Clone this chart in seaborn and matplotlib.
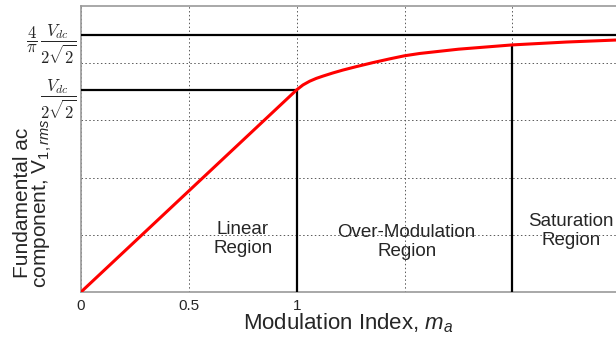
import numpy as np
import pandas as pd
import matplotlib
matplotlib.use('Agg')
import matplotlib.pyplot as plt
import seaborn as sns

# values (y normalised so that the top of the axes = 1)
m_curve = [0, 1.0, 1.029, 1.06, 1.091, 1.122, 1.168, 1.214, 1.276, 1.353,
           1.43, 1.5, 1.57, 1.75, 2.0, 2.25, 2.48]
v_curve = [0, 0.707, 0.724, 0.737, 0.747, 0.755, 0.766, 0.776, 0.788, 0.802,
           0.815, 0.826, 0.834, 0.849, 0.864, 0.874, 0.881]

v_linear_max = 0.707    # Vdc / (2*sqrt(2))
v_six_step = 0.9003     # 4/pi * Vdc / (2*sqrt(2))
m_boundaries = [1.0, 2.0]
v_boundaries = [0.707, 0.864]

region_names = ['Linear\nRegion', 'Over-Modulation\nRegion', 'Saturation\nRegion']
region_m = [0.75, 1.51, 2.27]
region_v = [0.185, 0.175, 0.213]

x_ticks = [0, 0.5, 1, 1.5, 2]
x_ticklabels = ['0', '0.5', '1', '', '']
y_grid = [0.2, 0.4, 0.6, 0.8]
y_ticks = [v_linear_max, v_six_step]
y_ticklabels = [r'$\dfrac{V_{dc}}{2\sqrt{2}}$', r'$\dfrac{4}{\pi}\,\dfrac{V_{dc}}{2\sqrt{2}}$']

sns.set_style('white')
plt.rcParams['font.family'] = ['Liberation Sans', 'DejaVu Sans']
plt.rcParams['mathtext.fontset'] = 'custom'
plt.rcParams['mathtext.rm'] = 'Liberation Sans'
plt.rcParams['mathtext.it'] = 'Liberation Sans:italic'

df = pd.DataFrame({'m': m_curve, 'v': v_curve})

fig = plt.figure(figsize=(6.16, 3.41), dpi=100)
ax = fig.add_axes([81 / 616, 49 / 341, 535 / 616, 286 / 341])

# boundary lines
ax.axhline(v_six_step, color='black', lw=1.6, zorder=3)
ax.hlines(v_linear_max, 0, m_boundaries[0], color='black', lw=1.6, zorder=3)
ax.vlines(m_boundaries, 0, v_boundaries, color='black', lw=1.6, zorder=3)

sns.lineplot(data=df, x='m', y='v', color='red', lw=2.2, ax=ax, zorder=4)

for name, xm, yv in zip(region_names, region_m, region_v):
    ax.text(xm, yv, name, ha='center', va='center', fontsize=13.5, linespacing=1.1)

ax.set_xlim(0, 2.48)
ax.set_ylim(0, 1)

ax.set_xticks(x_ticks)
ax.set_xticklabels(x_ticklabels, fontsize=11)
ax.set_yticks(y_grid)
ax.set_yticklabels([''] * len(y_grid))
ax.set_yticks(y_ticks, minor=True)
ax.set_yticklabels(y_ticklabels, minor=True, fontsize=12, math_fontfamily='cm')
ax.tick_params(axis='both', which='both', length=0, pad=5)
ax.tick_params(axis='y', which='minor', pad=3)
ax.grid(True, which='major', linestyle=(0, (1.5, 2.5)), color='0.35', lw=0.7)

ax.set_xlabel('Modulation Index, $m_a$', fontsize=16, labelpad=-1)
ax.set_ylabel('Fundamental ac\ncomponent, $\\mathrm{V}_{\\mathit{1,rms}}$', fontsize=15,
              linespacing=0.95)
ax.yaxis.set_label_coords(-0.05, 0.31)

for side in ['left', 'bottom', 'top']:
    ax.spines[side].set_color('0.6')
    ax.spines[side].set_linewidth(1.2)
ax.spines['right'].set_visible(False)

fig.savefig('out.png', dpi=100)
